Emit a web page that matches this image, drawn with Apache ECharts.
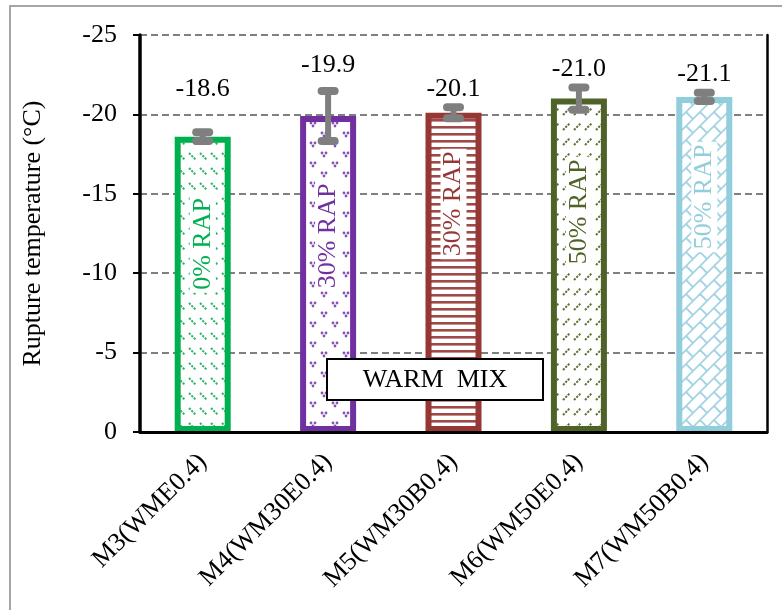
<!DOCTYPE html>
<html><head><meta charset="utf-8">
<script src="https://cdn.jsdelivr.net/npm/echarts@6/dist/echarts.min.js"></script>
<style>html,body{margin:0;padding:0;background:#fff}#c{width:782px;height:610px}</style>
</head><body><div id="c"></div>
<script>
// ---- data ----
const categories = ['M3(WME0.4)', 'M4(WM30E0.4)', 'M5(WM30B0.4)', 'M6(WM50E0.4)', 'M7(WM50B0.4)'];
const values = [-18.6, -19.9, -20.1, -21.0, -21.1];
const errors = [0.27, 1.58, 0.35, 0.70, 0.26];
const valueLabels = ['-18.6', '-19.9', '-20.1', '-21.0', '-21.1'];
const innerLabels = ['0% RAP', '30% RAP', '30% RAP', '50% RAP', '50% RAP'];
const yMin = -25, yMax = 0, yStep = 5;
const yTitle = 'Rupture temperature (\u00B0C)';
const boxText = 'WARM  MIX';

// ---- styles ----
const FONT = "'Liberation Serif','Times New Roman',serif";
const borderColors = ['#00B050', '#7030A0', '#953735', '#4F6228', '#92CDDC'];
const valueLabelLift = [43, 26, 18, 18, 19];      // px above error-bar end
const innerLabelLift = [188, 196, 228, 220, 235]; // px above axis baseline

function mk(w, h, draw) {
  const c = document.createElement('canvas');
  c.width = w; c.height = h;
  const g = c.getContext('2d');
  g.fillStyle = '#fff'; g.fillRect(0, 0, w, h);
  draw(g);
  return c;
}
const patterns = [
  mk(11, 15, g => { g.strokeStyle = '#2db56a'; g.lineWidth = 2; g.setLineDash([2.2, 1.2]);
    g.beginPath(); g.moveTo(2, 3); g.lineTo(9, 10); g.stroke(); }),
  mk(22, 20, g => { g.fillStyle = '#8752b5';
    [[3, 3], [5, 6], [7, 3], [14, 13], [16, 16], [18, 13]].forEach(p => { g.beginPath(); g.arc(p[0], p[1], 1.4, 0, 7); g.fill(); }); }),
  mk(4, 7, g => { g.fillStyle = '#a04a48'; g.fillRect(0, 0, 4, 2.6); }),
  mk(11, 15, g => { g.strokeStyle = '#5c7134'; g.lineWidth = 2; g.setLineDash([2.2, 1.2]);
    g.beginPath(); g.moveTo(2, 10); g.lineTo(9, 3); g.stroke(); }),
  mk(28, 28, g => { g.strokeStyle = '#a3d4e3'; g.lineWidth = 1.8;
    const H = 14 / Math.SQRT2, L = 2 * H;
    g.rotate(-Math.PI / 4);
    for (let n = -8; n <= 8; n++) {
      g.beginPath(); g.moveTo(-90, n * H); g.lineTo(90, n * H); g.stroke();
      for (let m = -8; m <= 8; m++) {
        const u = m * L + ((n % 2 + 2) % 2 ? L / 2 : 0);
        g.beginPath(); g.moveTo(u, n * H); g.lineTo(u, (n + 1) * H); g.stroke();
      }
    }
  })
];

const barData = values.map((v, i) => ({
  value: v,
  itemStyle: { color: { image: patterns[i], repeat: 'repeat' }, borderColor: borderColors[i], borderWidth: 6 }
}));
const errData = values.map((v, i) => [i, v + errors[i], v - errors[i], v]);

function renderErr(params, api) {
  const i = params.dataIndex;
  const lo = api.coord([api.value(0), api.value(1)]);
  const hi = api.coord([api.value(0), api.value(2)]);
  const base = api.coord([api.value(0), 0]);
  const x = lo[0], capW = 21, capH = 8;
  return {
    type: 'group',
    children: [
      { type: 'line', shape: { x1: x, y1: lo[1], x2: x, y2: hi[1] }, style: { stroke: '#7f7f7f', lineWidth: 6 } },
      { type: 'rect', shape: { x: x - capW / 2, y: lo[1] - capH / 2, width: capW, height: capH, r: 4 }, style: { fill: '#7f7f7f' } },
      { type: 'rect', shape: { x: x - capW / 2, y: hi[1] - capH / 2, width: capW, height: capH, r: 4 }, style: { fill: '#7f7f7f' } },
      { type: 'text', x: x, y: hi[1] - valueLabelLift[i],
        style: { text: valueLabels[i], font: '26px ' + FONT, fill: '#000', align: 'center', verticalAlign: 'middle' } },
      { type: 'text', x: x, y: base[1] - innerLabelLift[i], rotation: Math.PI / 2,
        style: { text: innerLabels[i], font: '26px ' + FONT, fill: borderColors[i], align: 'center', verticalAlign: 'middle',
                 backgroundColor: '#fff', padding: [0, 3, 0, 3] } }
    ]
  };
}

const chart = echarts.init(document.getElementById('c'), null, { renderer: 'canvas' });
chart.setOption({
  animation: false,
  backgroundColor: '#fff',
  grid: { left: 140, right: 15, top: 35, bottom: 178 },
  xAxis: [{
    type: 'category', data: categories,
    axisLine: { lineStyle: { color: '#000', width: 3 } },
    axisTick: { show: false },
    axisLabel: { interval: 0, rotate: 45, margin: 26, color: '#000', fontSize: 26, fontFamily: FONT }
  }, {
    type: 'category', data: categories, position: 'top', z: 5,
    axisLine: { lineStyle: { color: '#000', width: 2 } },
    axisTick: { show: false }, axisLabel: { show: false }
  }],
  yAxis: [{
    type: 'value', min: yMin, max: yMax, interval: yStep, inverse: true,
    name: yTitle, nameLocation: 'middle', nameGap: 94,
    nameTextStyle: { color: '#000', fontSize: 26, fontFamily: FONT },
    axisLine: { show: true, lineStyle: { color: '#000', width: 3.5 } },
    axisTick: { show: true, length: 7, lineStyle: { color: '#000', width: 2 } },
    axisLabel: { margin: 23, color: '#000', fontSize: 26, fontFamily: FONT },
    splitLine: { show: true, lineStyle: { color: '#808080', width: 2, type: [7, 4] } }
  }, {
    type: 'value', min: yMin, max: yMax, inverse: true, position: 'right', z: 5,
    axisLine: { show: true, lineStyle: { color: '#000', width: 2.5 } },
    axisTick: { show: false }, axisLabel: { show: false }, splitLine: { show: false }
  }],
  series: [{
    type: 'bar', data: barData, barWidth: 56, z: 2
  }, {
    type: 'custom', data: errData, renderItem: renderErr, z: 4, clip: false,
    encode: { x: 0, y: [1, 2] }
  }],
  graphic: [
    { type: 'rect', z: 100, shape: { x: 10, y: 6, width: 800, height: 700 },
      style: { fill: 'none', stroke: '#a6a6a6', lineWidth: 2 } },
    { type: 'rect', z: 60, shape: { x: 327, y: 359, width: 216, height: 41 },
      style: { fill: '#fff', stroke: '#000', lineWidth: 2 } },
    { type: 'text', z: 61, x: 435, y: 380,
      style: { text: boxText, font: '26px ' + FONT, fill: '#000', align: 'center', verticalAlign: 'middle' } }
  ]
});
</script></body></html>
